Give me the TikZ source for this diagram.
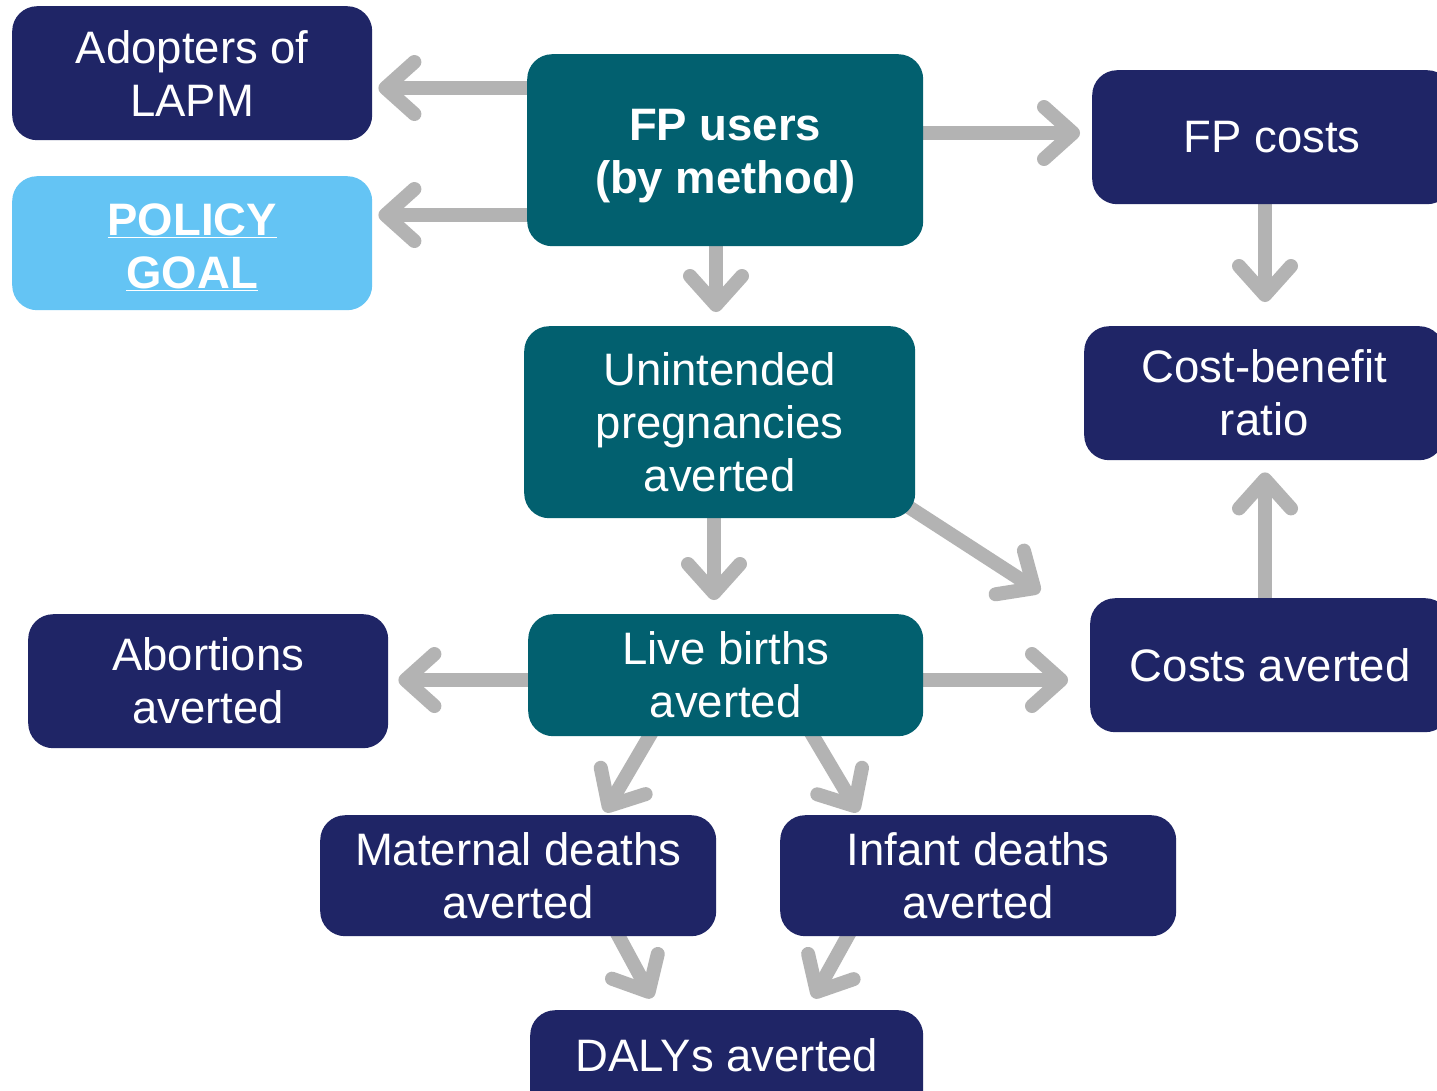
\documentclass[tikz,border=0pt]{standalone}
\usepackage{fontspec}
\setmainfont{Liberation Sans}
\usetikzlibrary{arrows.meta,backgrounds}
\definecolor{navy}{HTML}{1F2566}
\definecolor{tealbox}{HTML}{02606F}
\definecolor{skyb}{HTML}{64C4F4}
\definecolor{arrgray}{HTML}{B3B3B3}
\tikzset{
  box/.style={rectangle, rounded corners=25pt, inner sep=0pt, anchor=north west,
    text=white, align=center, font=\fontsize{45.5}{53}\selectfont},
  navybox/.style={box, fill=navy},
  tealb/.style={box, fill=tealbox},
  boxtext/.style={text=white, align=center, inner sep=0pt},
  arr/.style={draw=arrgray, line width=14pt,
    -{Straight Barb[length=29pt,width=52pt,round]}},
}
\begin{document}
\begin{tikzpicture}[x=1pt,y=-1pt]
\clip (0,0) rectangle (1437,1090);
% boxes
\node[navybox, minimum width=360pt, minimum height=134pt] (adopt) at (12,6) {Adopters of\\LAPM};
\node[box, fill=skyb, minimum width=360pt, minimum height=134pt] (policy) at (12,176) {};
\node[boxtext, font=\fontsize{45.5}{53}\selectfont\bfseries] (policyt) at ([yshift=-4pt]policy.center) {\underline{POLICY}\\\underline{GOAL}};
\node[tealb, minimum width=396pt, minimum height=192pt] (fp) at (527,54) {};
\node[boxtext, font=\fontsize{45.5}{53}\selectfont\bfseries] (fpt) at ([yshift=-6pt]fp.center) {FP users\\(by method)};
\node[navybox, minimum width=360pt, minimum height=134pt] (fpc) at (1092,70) {FP costs};
\node[tealb, minimum width=391pt, minimum height=192pt] (unint) at (524,326) {Unintended\\pregnancies\\averted};
\node[navybox, minimum width=360pt, minimum height=134pt] (cb) at (1084,326) {Cost-benefit\\ratio};
\node[navybox, minimum width=360pt, minimum height=134pt] (abort) at (28,614) {Abortions\\averted};
\node[tealb, minimum width=395pt, minimum height=122pt] (lb) at (528,614) {Live births\\averted};
\node[navybox, minimum width=360pt, minimum height=134pt] (costs) at (1090,598) {Costs averted};
\node[navybox, minimum width=396pt, minimum height=121pt] (mat) at (320,815) {Maternal deaths\\averted};
\node[navybox, minimum width=396pt, minimum height=121pt] (inf) at (780,815) {Infant deaths\\averted};
\node[navybox, minimum width=393pt, minimum height=124pt] (daly) at (530,1010) {};
\node[boxtext, font=\fontsize{45.5}{53}\selectfont, anchor=base] (dalyt) at (727,1071) {DALYs averted};
% arrows behind the boxes
\begin{scope}[on background layer]
\fill[white] (0,0) rectangle (1437,1090);
\draw[arr, shorten >=6pt] (fp.west |- 0,88) -- (adopt.east |- 0,88);
\draw[arr, shorten >=6pt] (fp.west |- 0,215) -- (policy.east |- 0,215);
\draw[arr, shorten >=12pt] (fp.east |- 0,133) -- (fpc.west |- 0,133);
\draw[arr, shorten >=14pt] (fp.south -| 716,0) -- (unint.north -| 716,0);
\draw[arr, shorten >=24pt] (fpc.south -| 1265,0) -- (cb.north -| 1265,0);
\draw[arr, shorten >=14pt] (unint.south -| 714,0) -- (lb.north -| 714,0);
\draw[arr] ([shift={(-20,-20)}]unint.south east) -- ([shift={(-50,-6)}]costs.north west);
\draw[arr, shorten >=12pt] (costs.north -| 1265,0) -- (cb.south -| 1265,0);
\draw[arr, shorten >=10pt] (lb.west |- 0,680) -- (abort.east |- 0,680);
\draw[arr, shorten >=22pt] (lb.east |- 0,680) -- (costs.west |- 0,680);
\draw[arr] ([shift={(126,-8)}]lb.south west) -- ([shift={(285,-3)}]mat.north west);
\draw[arr] ([shift={(-115,-8)}]lb.south east) -- ([shift={(78,-3)}]inf.north west);
\draw[arr] ([shift={(-102,-8)}]mat.south east) -- ([shift={(122,-12)}]daly.north west);
\draw[arr] ([shift={(72,-8)}]inf.south west) -- ([shift={(-110,-12)}]daly.north east);
\end{scope}
\end{tikzpicture}
\end{document}
